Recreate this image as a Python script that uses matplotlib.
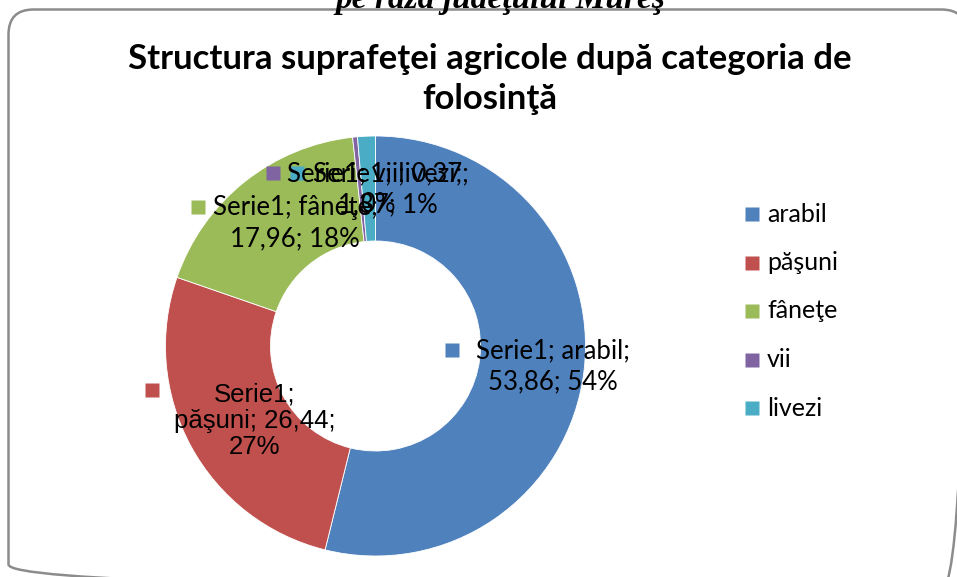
import matplotlib
matplotlib.use('Agg')
import matplotlib.pyplot as plt
from matplotlib.patches import FancyBboxPatch

categories = ['arabil', 'păşuni', 'fâneţe', 'vii', 'livezi']
values = [53.86, 26.44, 17.96, 0.37, 1.37]
percents = ['54%', '27%', '18%', '0%', '1%']
colors = ['#4F81BD', '#C0504D', '#9BBB59', '#8064A2', '#4BACC6']
series_name = 'Serie1'
title = 'Structura suprafeţei agricole după categoria de\nfolosinţă'
top_text = 'pe raza judeţului Mureş'

W, H = 957, 577
fig = plt.figure(figsize=(W / 100, H / 100), dpi=100)

# donut axes: centre (375.5, 346) px, radius 210 px
cx, cy, r = 375.5, 346, 210
ax = fig.add_axes([(cx - r) / W, (H - cy - r) / H, 2 * r / W, 2 * r / H])
ax.pie(values, colors=colors, startangle=90, counterclock=False, radius=1,
       wedgeprops=dict(width=0.5, linewidth=0.6, edgecolor='white'))
ax.set_xlim(-1, 1)
ax.set_ylim(-1, 1)
ax.axis('off')

# overlay axes in pixel coordinates for frame and texts
ov = fig.add_axes([0, 0, 1, 1])
ov.set_xlim(0, W)
ov.set_ylim(H, 0)
ov.axis('off')
ov.patch.set_visible(False)

ov.add_patch(FancyBboxPatch((8.5, 9.5), 958, 580, boxstyle='round,pad=0,rounding_size=25',
                            fc='none', ec='#8c8c8c', lw=1.8, clip_on=False))

ov.text(500, 8, top_text, ha='center', va='baseline', fontsize=24,
        family='Liberation Serif', weight='bold', style='italic')
ov.text(490, 79, title, ha='center', va='center', fontsize=25,
        family='Lato', weight='bold', linespacing=1.27)

# data labels: (square x, square y, text centre x, text centre y, family, size, spacing)
label_pos = [
    (452, 350, 553, 366, 'Lato', 18.5, 1.3),
    (152, 390, 255, 421, 'Liberation Sans', 18.5, 1.12),
    (198, 207, 295, 223, 'Lato', 18.5, 1.3),
    (273, 173, 378, 189, 'Lato', 18.5, 1.3),
    (297, 173, 388, 189, 'Lato', 18.5, 1.3),
]
for i, cat in enumerate(categories):
    sx, sy, tx, ty, fam, fs, ls = label_pos[i]
    val = f'{values[i]:.2f}'.replace('.', ',')
    if i == 1:
        txt = f'{series_name};\n{cat}; {val};\n{percents[i]}'
    elif i == 3:
        txt = f'{series_name}; {cat}; {val};\n{percents[i]}'
    else:
        txt = f'{series_name}; {cat};\n{val}; {percents[i]}'
    ov.plot(sx, sy, marker='s', ms=10.5, color=colors[i], mec='none')
    ov.text(tx, ty, txt, ha='center', va='center', fontsize=fs, family=fam,
            linespacing=ls)

# legend
for i, cat in enumerate(categories):
    ly = 214 + i * 48.5
    ov.plot(752, ly, marker='s', ms=10.5, color=colors[i], mec='none')
    ov.text(767, ly, cat, ha='left', va='center', fontsize=18, family='Lato')

fig.savefig('out.png', dpi=100)
